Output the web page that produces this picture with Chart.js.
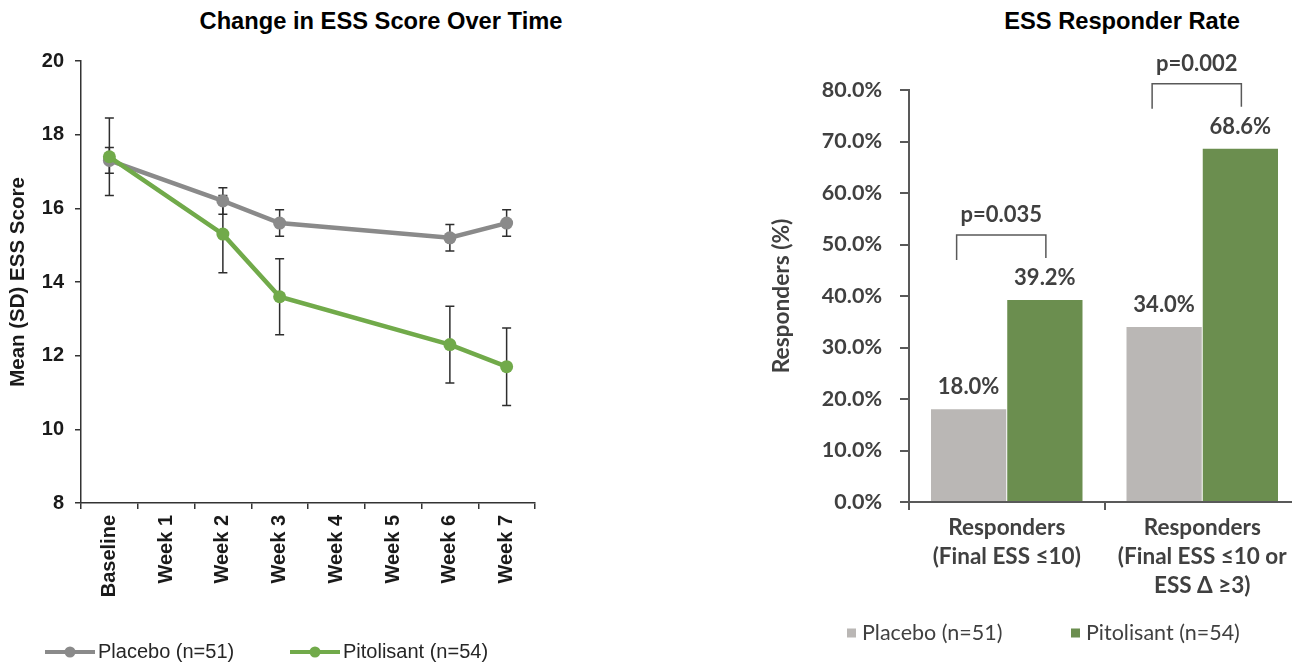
<!DOCTYPE html>
<html>
<head>
<meta charset="utf-8">
<script src="https://cdn.jsdelivr.net/npm/chart.js@4.4.1/dist/chart.umd.min.js"></script>
<style>
  html, body { margin: 0; padding: 0; background: #fff; overflow: hidden; }
  body { width: 1292px; height: 664px; position: relative; }
  .title {
    position: absolute; top: 8px; transform: translateX(-50%);
    font: bold 23.7px "Liberation Sans", Arial, sans-serif; color: #000; white-space: nowrap;
  }
  canvas { position: absolute; top: 0; }
</style>
</head>
<body>
<div class="title" style="left:381px">Change in ESS Score Over Time</div>
<div class="title" style="left:1122px">ESS Responder Rate</div>
<canvas id="essChart" width="560" height="664" style="left:0"></canvas>
<canvas id="responderChart" width="540" height="664" style="left:760px"></canvas>

<script>
// ---- ESS score over time ----
const weekLabels = ['Baseline', 'Week 1', 'Week 2', 'Week 3', 'Week 4', 'Week 5', 'Week 6', 'Week 7'];
const seriesNames = ['Placebo (n=51)', 'Pitolisant (n=54)'];
const placeboMean = [17.3, null, 16.2, 15.6, null, null, 15.2, 15.6];
const placeboSD = [0.35, null, 0.36, 0.36, null, null, 0.36, 0.36];
const pitolisantMean = [17.4, null, 15.3, 13.6, null, null, 12.3, 11.7];
const pitolisantSD = [1.05, null, 1.05, 1.03, null, null, 1.04, 1.05];

// ---- Responder rate ----
const responderCategories = [
  ['Responders', '(Final ESS \u226410)'],
  ['Responders', '(Final ESS \u226410 or', 'ESS \u0394 \u22653)']
];
const placeboRate = [18.0, 34.0];
const pitolisantRate = [39.2, 68.6];
const pValueLabels = ['p=0.035', 'p=0.002'];

const GREY_LINE = '#8a8a8a';
const GREEN_LINE = '#71aa4a';
const GREY_BAR = '#bab7b5';
const GREEN_BAR = '#6b8e4f';
const ARIAL = '"Liberation Sans", Arial, sans-serif';
const CALIBRI = 'Lato, "Open Sans", sans-serif';

// vertical SD whiskers, drawn underneath the lines and markers
const errorBars = {
  id: 'errorBars',
  beforeDatasetsDraw(chart, args, opts) {
    const { ctx, scales: { x, y } } = chart;
    ctx.save();
    ctx.strokeStyle = opts.color;
    ctx.lineWidth = opts.width;
    chart.data.datasets.forEach((ds) => {
      ds.data.forEach((v, i) => {
        const sd = ds.sd[i];
        if (v == null || sd == null) return;
        const px = x.getPixelForValue(i);
        const top = y.getPixelForValue(v + sd);
        const bot = y.getPixelForValue(v - sd);
        ctx.beginPath();
        ctx.moveTo(px, top); ctx.lineTo(px, bot);
        ctx.moveTo(px - opts.cap, top); ctx.lineTo(px + opts.cap, top);
        ctx.moveTo(px - opts.cap, bot); ctx.lineTo(px + opts.cap, bot);
        ctx.stroke();
      });
    });
    ctx.restore();
  }
};

// bottom key: line+marker samples or filled squares
const seriesKey = {
  id: 'seriesKey',
  afterDraw(chart, args, o) {
    const ctx = chart.ctx;
    ctx.save();
    ctx.font = o.font;
    ctx.textBaseline = 'middle';
    chart.data.datasets.forEach((ds, i) => {
      const x0 = o.x[i];
      const col = o.kind === 'line' ? ds.borderColor : ds.backgroundColor;
      if (o.kind === 'line') {
        ctx.strokeStyle = col;
        ctx.lineWidth = 4;
        ctx.beginPath();
        ctx.moveTo(x0, o.y); ctx.lineTo(x0 + 50, o.y);
        ctx.stroke();
        ctx.fillStyle = col;
        ctx.beginPath();
        ctx.arc(x0 + 25, o.y, 5.5, 0, Math.PI * 2);
        ctx.fill();
      } else {
        ctx.fillStyle = col;
        ctx.fillRect(x0, o.y - 4.5, 9, 9);
      }
      ctx.fillStyle = o.color;
      ctx.fillText(ds.label, x0 + o.textOffset, o.y);
    });
    ctx.restore();
  }
};

// value labels above bars and significance brackets
const barAnnotations = {
  id: 'barAnnotations',
  afterDatasetsDraw(chart, args, o) {
    const ctx = chart.ctx;
    const metaA = chart.getDatasetMeta(0);
    const metaB = chart.getDatasetMeta(1);
    ctx.save();
    ctx.fillStyle = o.color;
    ctx.textAlign = 'center';
    ctx.textBaseline = 'middle';
    ctx.font = o.font;
    chart.data.datasets.forEach((ds, di) => {
      chart.getDatasetMeta(di).data.forEach((bar, i) => {
        ctx.fillText(ds.data[i].toFixed(1) + '%', bar.x, bar.y - 22);
      });
    });
    ctx.strokeStyle = o.bracketColor;
    ctx.lineWidth = 1.5;
    ctx.font = o.pFont;
    o.pValues.forEach((txt, i) => {
      const a = metaA.data[i], b = metaB.data[i];
      const top = Math.min(a.y, b.y) - 65;
      const left = a.x - 12, right = b.x + 1;
      ctx.beginPath();
      ctx.moveTo(left, top + 25); ctx.lineTo(left, top);
      ctx.lineTo(right, top); ctx.lineTo(right, top + 23);
      ctx.stroke();
      ctx.fillText(txt, (left + right) / 2, top - 20);
    });
    ctx.restore();
  }
};

new Chart(document.getElementById('essChart'), {
  type: 'line',
  data: {
    labels: weekLabels,
    datasets: [
      {
        label: seriesNames[0], data: placeboMean, sd: placeboSD,
        borderColor: GREY_LINE, backgroundColor: GREY_LINE,
        borderWidth: 4.5, pointRadius: 6.5, pointBorderWidth: 0,
        pointBackgroundColor: GREY_LINE, spanGaps: true, tension: 0, order: 1
      },
      {
        label: seriesNames[1], data: pitolisantMean, sd: pitolisantSD,
        borderColor: GREEN_LINE, backgroundColor: GREEN_LINE,
        borderWidth: 4.5, pointRadius: 6.5, pointBorderWidth: 0,
        pointBackgroundColor: GREEN_LINE, spanGaps: true, tension: 0, order: 0
      }
    ]
  },
  options: {
    responsive: false,
    animation: false,
    layout: { padding: { left: 0, top: 61, right: 25, bottom: 51 } },
    scales: {
      x: {
        offset: true,
        grid: { offset: true, drawOnChartArea: false, tickLength: 6, color: '#333', lineWidth: 1.5 },
        border: { color: '#333', width: 1.5 },
        ticks: {
          autoSkip: false, maxRotation: 90, minRotation: 90, padding: 6,
          color: '#1a1a1a', font: { family: ARIAL, size: 20, weight: 'bold' }
        },
        afterFit(s) { s.height = 110; }
      },
      y: {
        min: 8, max: 20,
        grid: { drawOnChartArea: false, tickLength: 6, color: '#333', lineWidth: 1.5 },
        border: { color: '#333', width: 1.5 },
        ticks: { stepSize: 2, padding: 11, color: '#1a1a1a', font: { family: ARIAL, size: 20, weight: 'bold' } },
        title: {
          display: true, text: 'Mean (SD) ESS Score', color: '#1a1a1a',
          font: { family: ARIAL, size: 20.5, weight: 'bold' }, padding: { top: 6, bottom: 0 }
        },
        afterFit(s) { s.width = 81; }
      }
    },
    plugins: {
      legend: { display: false },
      tooltip: { enabled: false },
      errorBars: { color: '#2e2e2e', width: 1.5, cap: 4.5 },
      seriesKey: { kind: 'line', x: [45, 290], y: 652, textOffset: 53, font: '20px ' + ARIAL, color: '#262626' }
    }
  },
  plugins: [errorBars, seriesKey]
});

new Chart(document.getElementById('responderChart'), {
  type: 'bar',
  data: {
    labels: responderCategories,
    datasets: [
      { label: seriesNames[0], data: placeboRate, backgroundColor: GREY_BAR, barPercentage: 0.987, categoryPercentage: 0.78 },
      { label: seriesNames[1], data: pitolisantRate, backgroundColor: GREEN_BAR, barPercentage: 0.987, categoryPercentage: 0.78 }
    ]
  },
  options: {
    responsive: false,
    animation: false,
    layout: { padding: { left: 0, top: 90, right: 0, bottom: 42 } },
    scales: {
      x: {
        grid: { offset: true, drawOnChartArea: false, tickLength: 8, color: '#595959', lineWidth: 2 },
        border: { color: '#595959', width: 2 },
        ticks: {
          padding: 3, color: '#404040',
          font: { family: CALIBRI, size: 22.5, weight: 'bold', lineHeight: 1.29 }
        },
        afterFit(s) { s.height = 120; }
      },
      y: {
        min: 0, max: 80,
        grid: { drawOnChartArea: false, tickLength: 9, color: '#595959', lineWidth: 2 },
        border: { color: '#595959', width: 2 },
        ticks: {
          stepSize: 10, padding: 18, color: '#404040',
          font: { family: CALIBRI, size: 21.5, weight: 'bold' },
          callback: (v) => v.toFixed(1) + '%'
        },
        title: {
          display: true, text: 'Responders (%)', color: '#404040',
          font: { family: CALIBRI, size: 22.7, weight: 'bold' }, padding: { top: 8, bottom: 0 }
        },
        afterFit(s) { s.width = 149; }
      }
    },
    plugins: {
      legend: { display: false },
      tooltip: { enabled: false },
      barAnnotations: {
        font: 'bold 22px ' + CALIBRI, pFont: 'bold 22px ' + CALIBRI,
        color: '#404040', bracketColor: '#595959', pValues: pValueLabels
      },
      seriesKey: { kind: 'box', x: [87, 311], y: 633, textOffset: 15, font: '21.5px ' + CALIBRI, color: '#404040' }
    }
  },
  plugins: [barAnnotations, seriesKey]
});
</script>
</body>
</html>
